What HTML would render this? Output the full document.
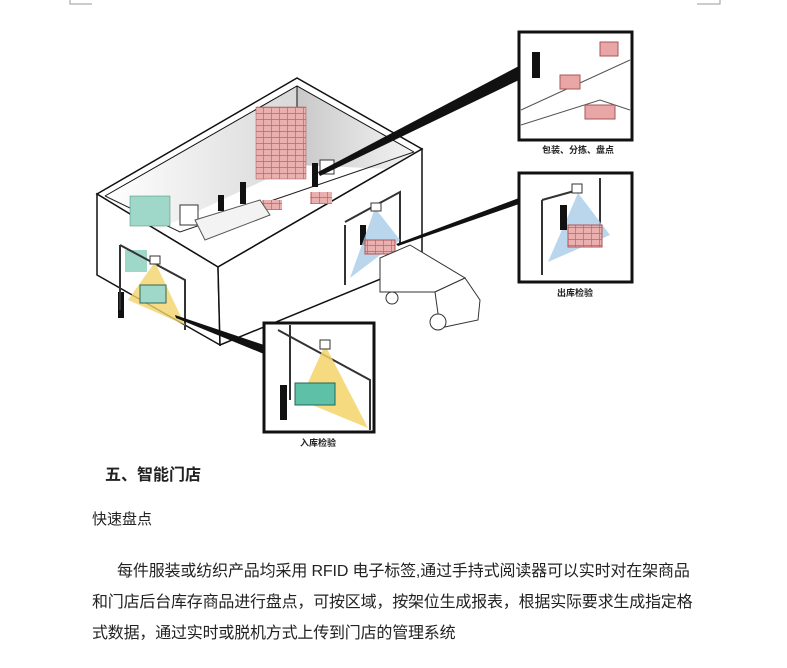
<!DOCTYPE html>
<html><head><meta charset="utf-8"><style>
body{margin:0;width:787px;height:668px;background:#fff;position:relative;overflow:hidden;font-family:"Liberation Sans","Noto Sans CJK SC",sans-serif;color:#222}
.t{position:absolute;white-space:nowrap}
</style></head><body>
<svg width="787" height="668" style="position:absolute;left:0;top:0">
<defs>
<linearGradient id="gw" x1="0" y1="0" x2="1" y2="0"><stop offset="0" stop-color="#fff"/><stop offset="1" stop-color="#d8d8d8"/></linearGradient>
<linearGradient id="gw2" x1="0" y1="0" x2="1" y2="0"><stop offset="0" stop-color="#c8c8c8"/><stop offset="1" stop-color="#f4f4f4"/></linearGradient>
<pattern id="pb" width="8" height="6" patternUnits="userSpaceOnUse"><rect width="8" height="6" fill="#eab0b0"/><path d="M0 5.5H8M7.5 0V6" stroke="#b66" stroke-width=".7"/></pattern>
</defs>
<path d="M70 0V4H92M720 0V4H697" stroke="#999" fill="none" stroke-width="1"/>
<polygon points="97,194 297,78 422,149 218,267" fill="#fff" stroke="#111" stroke-width="1.5"/>
<polygon points="105,196 297,86 297,165 140,238" fill="url(#gw)"/>
<polygon points="297,86 414,152 414,170 297,165" fill="url(#gw2)"/>
<line x1="297" y1="86" x2="297" y2="165" stroke="#111"/>
<polyline points="105,196 297,86 414,152" fill="none" stroke="#111"/>
<polyline points="105,196 180,232 414,152" fill="none" stroke="#222" stroke-width="1"/>
<polygon points="97,194 218,267 220,345 97,275" fill="#fff" stroke="#111" stroke-width="1.5"/>
<polygon points="218,267 422,149 422,262 220,345" fill="#fff" stroke="#111" stroke-width="1.5"/>
<rect x="256" y="107" width="50" height="72" fill="url(#pb)" stroke="#a55" stroke-width=".5"/>
<rect x="262" y="200" width="20" height="10" fill="url(#pb)"/>
<rect x="310" y="192" width="22" height="12" fill="url(#pb)"/>
<rect x="130" y="196" width="40" height="30" fill="#9fd8c8" stroke="#487" stroke-width=".5"/>
<rect x="125" y="250" width="22" height="22" fill="#9fd8c8"/>
<rect x="180" y="205" width="18" height="20" fill="#fff" stroke="#333"/>
<path d="M195 220 L260 200 L270 215 L205 240Z" fill="#f3f3f3" stroke="#555"/>
<rect x="320" y="160" width="14" height="14" fill="#fff" stroke="#333"/>
<g fill="#111">
<rect x="218" y="195" width="6" height="16"/><rect x="240" y="182" width="6" height="22"/><rect x="312" y="163" width="6" height="24"/>
<rect x="118" y="292" width="6" height="26"/><rect x="360" y="225" width="6" height="20"/>
</g>
<path d="M120 245 V310 M120 245 L185 280 V330" stroke="#333" fill="none" stroke-width="2"/>
<polygon points="155,262 128,300 185,325" fill="#f3d36a" opacity=".8"/>
<rect x="140" y="285" width="26" height="18" fill="#9fd8c8" stroke="#365"/>
<rect x="150" y="256" width="10" height="8" fill="#fff" stroke="#333"/>
<path d="M345 225 V285 M345 222 L400 192 V245" stroke="#333" fill="none" stroke-width="2"/>
<polygon points="375,208 350,278 400,240" fill="#a8cce8" opacity=".8"/>
<rect x="365" y="240" width="30" height="14" fill="url(#pb)" stroke="#a55"/>
<rect x="371" y="203" width="10" height="8" fill="#fff" stroke="#333"/>
<polygon points="380,258 410,245 465,278 435,292 380,292" fill="#fff" stroke="#333"/>
<polygon points="435,292 465,278 480,300 478,320 440,328" fill="#fff" stroke="#333"/>
<circle cx="392" cy="298" r="6" fill="#fff" stroke="#333"/><circle cx="438" cy="322" r="8" fill="#fff" stroke="#333"/>
<polygon points="318,172 519,66 519,80 320,176" fill="#111"/>
<polygon points="396,244 519,198 519,204 398,246" fill="#111"/>
<polygon points="175,315 264,345 264,354 176,318" fill="#111"/>
<rect x="519" y="32" width="113" height="108" fill="#fff" stroke="#111" stroke-width="3"/>
<path d="M521 110 L630 60 M521 125 L600 100 L630 110" stroke="#555" fill="none"/>
<rect x="560" y="75" width="20" height="14" fill="#e8a6a6" stroke="#a55"/>
<rect x="600" y="42" width="18" height="14" fill="#e8a6a6" stroke="#a55"/>
<rect x="585" y="105" width="30" height="14" fill="#e8a6a6" stroke="#a55"/>
<rect x="532" y="52" width="8" height="26" fill="#111"/>
<rect x="519" y="173" width="113" height="109" fill="#fff" stroke="#111" stroke-width="3"/>
<path d="M542 200 V275 M542 200 L578 190 M600 178 V230" stroke="#333" fill="none" stroke-width="2"/>
<polygon points="578,193 548,262 610,235" fill="#a8cce8" opacity=".8"/>
<rect x="568" y="225" width="34" height="22" fill="url(#pb)" stroke="#a55"/>
<rect x="560" y="205" width="7" height="25" fill="#111"/>
<rect x="572" y="184" width="10" height="9" fill="#fff" stroke="#333"/>
<rect x="264" y="323" width="110" height="109" fill="#fff" stroke="#111" stroke-width="3"/>
<path d="M290 325 V400 M278 330 L370 380 V430" stroke="#333" fill="none" stroke-width="2"/>
<polygon points="325,345 300,400 368,428" fill="#f3d36a" opacity=".85"/>
<rect x="295" y="383" width="40" height="22" fill="#5fc0a8" stroke="#265"/>
<rect x="280" y="385" width="7" height="35" fill="#111"/>
<rect x="320" y="340" width="10" height="9" fill="#fff" stroke="#333"/>
</svg>
<div class="t" style="left:542px;top:143px;font-size:9px;font-weight:bold">包装、分拣、盘点</div>
<div class="t" style="left:557px;top:286px;font-size:9px;font-weight:bold">出库检验</div>
<div class="t" style="left:300px;top:436px;font-size:9px;font-weight:bold">入库检验</div>
<div class="t" style="left:105px;top:461px;font-size:16px;font-weight:bold">五、智能门店</div>
<div class="t" style="left:92px;top:508px;font-size:15px">快速盘点</div>
<div class="t" style="left:117px;top:557px;font-size:16px;letter-spacing:-0.15px">每件服装或纺织产品均采用 RFID 电子标签,通过手持式阅读器可以实时对在架商品</div>
<div class="t" style="left:92px;top:588px;font-size:16px;letter-spacing:-0.2px">和门店后台库存商品进行盘点，可按区域，按架位生成报表，根据实际要求生成指定格</div>
<div class="t" style="left:92px;top:619px;font-size:16px;letter-spacing:-0.2px">式数据，通过实时或脱机方式上传到门店的管理系统</div>
</body></html>
